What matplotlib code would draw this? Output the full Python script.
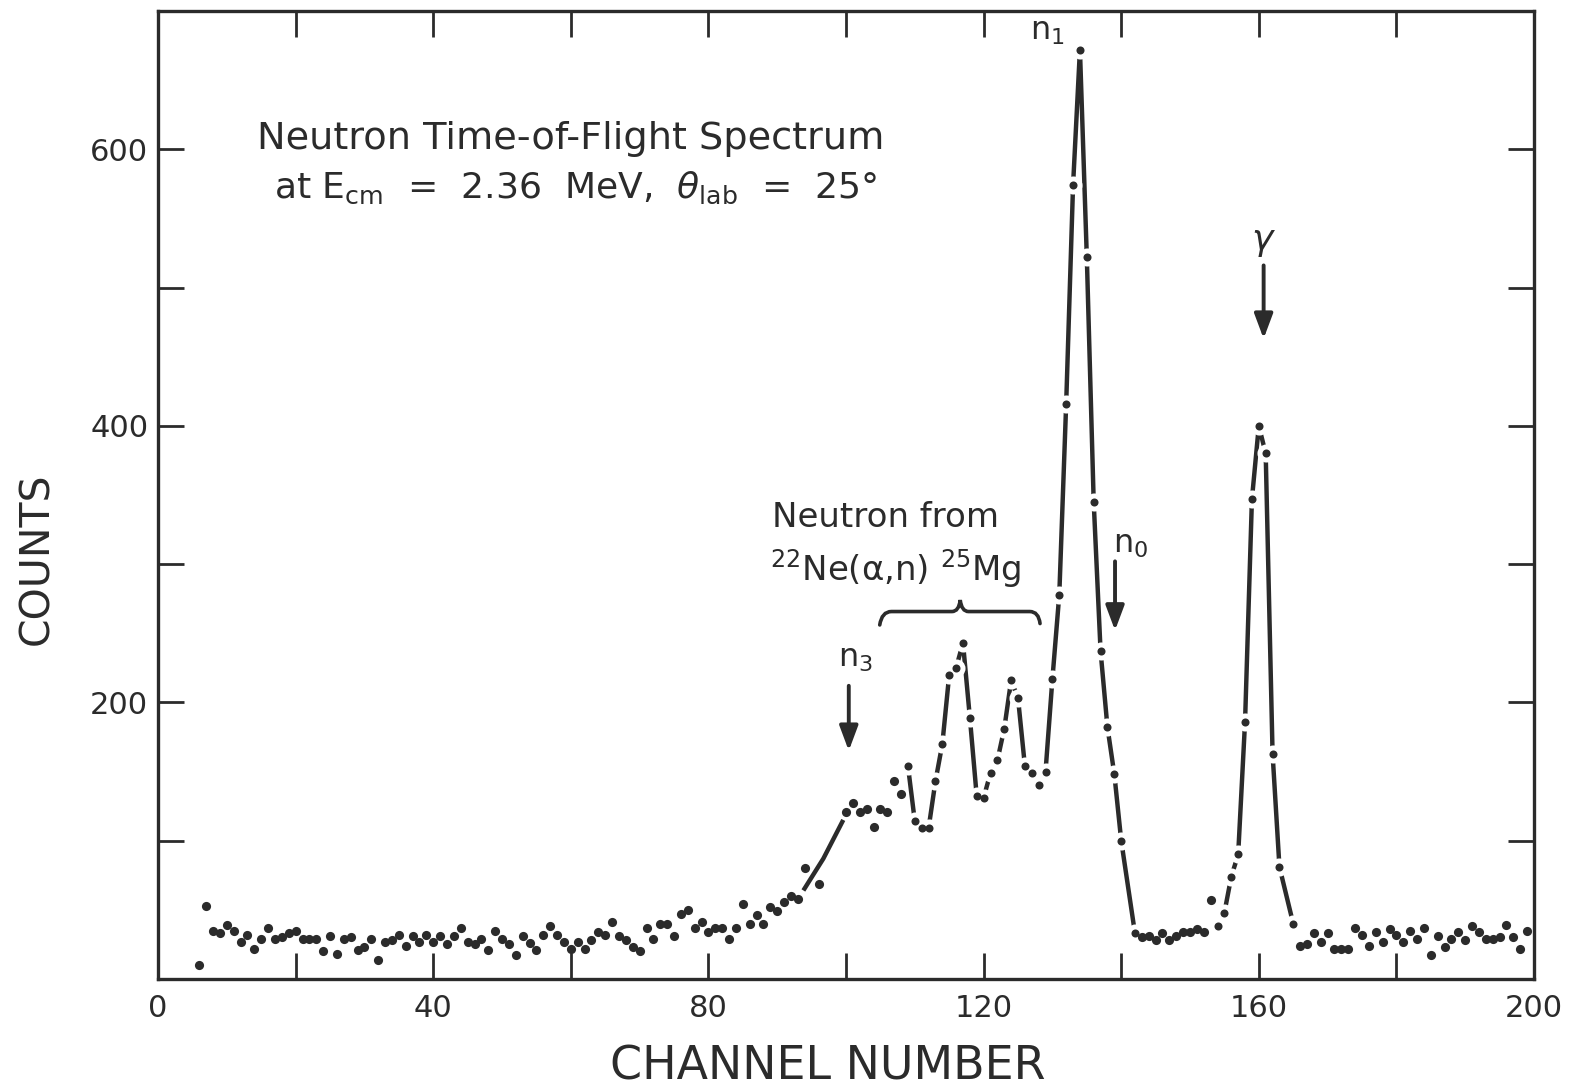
import numpy as np
import matplotlib.pyplot as plt
from matplotlib.path import Path
from matplotlib.patches import PathPatch

plt.rcParams['font.family'] = 'DejaVu Sans'
plt.rcParams['mathtext.fontset'] = 'dejavusans'

INK = '#2b2b2b'

# measured spectrum: channel number and counts
# (a few channels sit under the drawn curve and were not plotted)
channels = (list(range(6, 95)) + [96] + list(range(100, 141))
            + list(range(142, 164)) + list(range(165, 200)))

counts = (
    # ch 6 - 59
    [10, 53, 35, 33, 39, 35, 27, 32, 22, 29,
     37, 29, 30, 33, 35, 29, 29, 29, 20, 31,
     18, 29, 30, 21, 23, 29, 14, 27, 28, 32,
     24, 31, 27, 32, 27, 31, 25, 31, 37, 27,
     25, 29, 21, 35, 29, 25, 17, 31, 26, 21,
     32, 38, 32, 27]
    # ch 60 - 94
    + [22, 27, 22, 28, 34, 32, 41, 31, 28, 23,
       20, 37, 29, 40, 40, 31, 47, 50, 37, 41,
       34, 37, 37, 29, 37, 54, 40, 46, 40, 52,
       49, 56, 60, 58, 80]
    # ch 96
    + [69]
    # ch 100 - 140
    + [121, 127, 121, 123, 110, 123, 121, 143, 134, 154,
       114, 109, 109, 143, 170, 220, 225, 243, 189, 132,
       131, 149, 158, 181, 216, 203, 154, 149, 140, 150,
       217, 278, 416, 574, 672, 522, 345, 237, 182, 148,
       100]
    # ch 142 - 163
    + [33, 30, 31, 28, 33, 28, 31, 34, 34, 36,
       34, 57, 38, 48, 74, 90, 186, 347, 400, 380,
       163, 81]
    # ch 165 - 199
    + [40, 24, 25, 33, 27, 33, 22, 22, 22, 37,
       32, 24, 34, 27, 36, 32, 27, 35, 29, 37,
       17, 31, 23, 29, 34, 28, 38, 34, 29, 29,
       30, 39, 30, 22, 35]
)

# hand-drawn rise of the curve below the n3 group
rise_ch = [93.8, 96.7, 99.6]
rise_counts = [64, 87, 115]

# channel ranges joined by the smooth curve
curve_ranges = [(109, 142), (154, 165)]

x_ticks = list(range(0, 201, 20))
x_labels = [str(v) if v % 40 == 0 else '' for v in x_ticks]
y_ticks = list(range(100, 700, 100))
y_labels = [str(v) if v % 200 == 0 else '' for v in y_ticks]

ch = np.array(channels)
ct = np.array(counts)

fig = plt.figure(figsize=(15.79, 10.87), dpi=100)
ax = fig.add_axes([0.1001, 0.0994, 0.8714, 0.8905])

# curve through the peaks, with a white gap round each dot on it
ax.plot(rise_ch, rise_counts, color=INK, lw=3.2, solid_capstyle='butt', zorder=2)
on_curve = np.zeros(len(ch), dtype=bool)
for lo, hi in curve_ranges:
    sel = (ch >= lo) & (ch <= hi)
    on_curve |= sel
    ax.plot(ch[sel], ct[sel], color=INK, lw=3.2, solid_joinstyle='round', zorder=2)

ax.plot(ch[on_curve], ct[on_curve], 'o', ms=13, color='white', mec='none', zorder=3)
ax.plot(ch[on_curve], ct[on_curve], 'o', ms=5.8, color=INK, mec='none', zorder=4)
ax.plot(ch[~on_curve], ct[~on_curve], 'o', ms=6.6, color=INK, mec='none', zorder=4)

ax.set_xlim(0, 200)
ax.set_ylim(0, 700)
ax.set_xticks(x_ticks)
ax.set_xticklabels(x_labels)
ax.set_yticks(y_ticks)
ax.set_yticklabels(y_labels)
ax.tick_params(direction='in', length=19, width=2, color=INK, top=True, right=True,
               labelsize=22, labelcolor=INK)
ax.tick_params(axis='x', pad=11)
ax.tick_params(axis='y', pad=7)
for sp in ax.spines.values():
    sp.set_linewidth(2.4)
    sp.set_color(INK)

fig.text(0.5244, 0.0066, 'CHANNEL NUMBER', ha='center', va='baseline',
         fontsize=33, color=INK)
fig.text(0.0306, 0.4857, 'COUNTS', rotation=90, rotation_mode='anchor',
         ha='center', va='baseline', fontsize=29.5, color=INK)

# title block
ax.text(14.4, 600, 'Neutron Time-of-Flight Spectrum', fontsize=27.5, color=INK,
        ha='left', va='baseline')
ax.text(16.8, 565, r'at E$_{\mathrm{cm}}$  =  2.36  MeV,  $\theta_{\mathrm{lab}}$  =  25°',
        fontsize=26, color=INK, ha='left', va='baseline')

# reaction label and brace
ax.text(89.2, 327, 'Neutron from', fontsize=24.5, color=INK, ha='left', va='baseline')
ax.text(89.0, 288, r'$^{22}$Ne(α,n) $^{25}$Mg', fontsize=24.5, color=INK,
        ha='left', va='baseline')
brace_pts = [(104.9, 256), (105.2, 265.7), (106.6, 265.7), (115.4, 265.7),
             (116.4, 265.7), (116.6, 274), (116.8, 265.7), (117.8, 265.7),
             (126.7, 265.7), (128.0, 265.7), (128.2, 257)]
brace_codes = [Path.MOVETO, Path.CURVE3, Path.CURVE3, Path.LINETO,
               Path.CURVE3, Path.CURVE3, Path.CURVE3, Path.CURVE3,
               Path.LINETO, Path.CURVE3, Path.CURVE3]
ax.add_patch(PathPatch(Path(brace_pts, brace_codes), fill=False, lw=2.6,
                       edgecolor=INK, capstyle='round'))

# peak labels and arrows
arrow_kw = dict(arrowstyle='-|>,head_length=0.75,head_width=0.28', lw=2.8,
                color=INK, shrinkA=0, shrinkB=0, mutation_scale=20)
ax.text(98.9, 226, r'n$_3$', fontsize=23, color=INK, ha='left', va='baseline')
ax.annotate('', xy=(100.4, 165), xytext=(100.4, 212), arrowprops=arrow_kw)

ax.text(126.8, 679, r'n$_1$', fontsize=23, color=INK, ha='left', va='baseline')

ax.text(138.8, 308, r'n$_0$', fontsize=23, color=INK, ha='left', va='baseline')
ax.annotate('', xy=(139.1, 252), xytext=(139.1, 302), arrowprops=arrow_kw)

ax.text(160.7, 533, r'$\gamma$', fontsize=26, color=INK, ha='center', va='center')
ax.annotate('', xy=(160.7, 463), xytext=(160.7, 516), arrowprops=arrow_kw)

fig.savefig('out.png', dpi=100)
